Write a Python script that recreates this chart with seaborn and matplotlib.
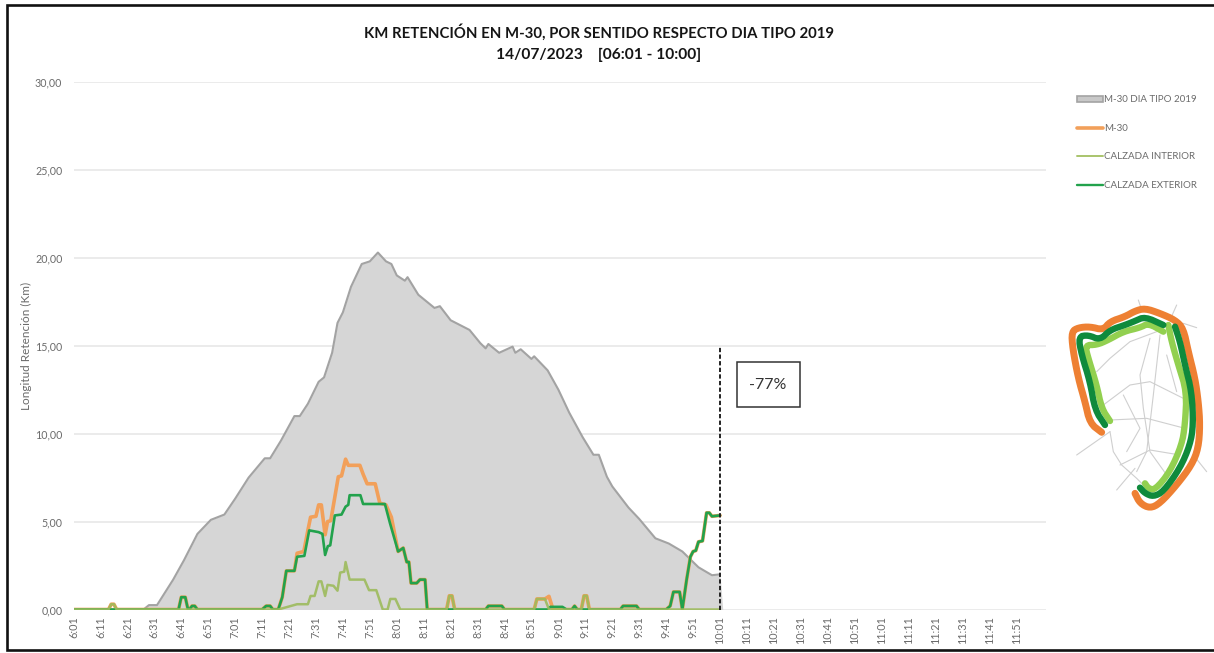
"""
KM retencion en M-30 por sentido, respecto al dia tipo 2019
"""

import matplotlib.pyplot as plt
from matplotlib.lines import Line2D
from matplotlib.patches import Rectangle
import seaborn as sns

W, H = 1214, 653

# minutes after 6:01 and km
tipo_min = [0, 26, 28, 31, 37, 41, 46, 51, 56, 60, 65, 71, 73, 77, 82, 84, 87, 91, 93, 96, 98, 100, 103, 107, 110,
            113, 116, 118, 120, 123, 124, 128, 134, 136, 140, 147, 151, 153, 154, 158, 163, 164, 166, 170, 171, 176,
            180, 184, 189, 193, 195, 198, 200, 204, 206, 210, 216, 221, 226, 232, 237, 240, 241]
tipo_km = [0, 0, 0.25, 0.25, 1.7, 2.8, 4.3, 5.1, 5.4, 6.3, 7.5, 8.6, 8.6, 9.6, 11.0, 11.0, 11.7, 12.95, 13.2, 14.6,
           16.3, 16.9, 18.35, 19.65, 19.8, 20.3, 19.8, 19.65, 19.0, 18.7, 18.9, 17.9, 17.15, 17.25, 16.45, 15.9, 15.15,
           14.85, 15.1, 14.6, 14.95, 14.6, 14.8, 14.25, 14.4, 13.6, 12.5, 11.2, 9.8, 8.8, 8.8, 7.55, 7.0, 6.2, 5.8,
           5.15, 4.05, 3.75, 3.3, 2.4, 1.95, 2.0, 0]

m30_min = [0, 13, 14, 15, 16, 39, 40, 41.5, 42.5, 43, 44, 45, 46, 70, 71.5, 73, 74, 76, 77.5, 79, 82, 83, 85.5, 87,
           88, 90, 91, 92, 93.4, 94.3, 95.5, 98.3, 99.5, 101, 102, 106.3, 107.5, 109, 112, 113.7, 116, 118, 120.5,
           122.4, 123.7, 124.5, 125.3, 127.4, 128.6, 130.5, 131.3, 138.5, 139.5, 140.5, 141.5, 153, 154, 159, 160,
           171, 172, 175, 176.5, 178, 182, 183, 185, 186, 187, 188.5, 189.5, 190.5, 191.5, 203, 204, 209, 210,
           220, 221.5, 222.7, 225, 226, 227.6, 229, 230, 231, 232, 233.5, 235, 236, 237, 240]
m30_km = [0, 0, 0.3, 0.3, 0, 0, 0.7, 0.7, 0, 0, 0.2, 0.2, 0, 0, 0.2, 0.2, 0, 0, 0.7, 2.2, 2.2, 3.2, 3.3, 4.5, 5.25,
          5.3, 5.95, 5.95, 4.25, 5.0, 5.05, 7.55, 7.6, 8.55, 8.2, 8.2, 7.7, 7.15, 7.15, 6.05, 5.95, 5.25, 3.3, 3.5,
          2.7, 2.7, 1.5, 1.5, 1.7, 1.7, 0, 0, 0.78, 0.78, 0, 0, 0.2, 0.2, 0, 0, 0.6, 0.6, 0.75, 0, 0, 0, 0, 0.2, 0,
          0, 0.78, 0.78, 0, 0, 0.2, 0.2, 0, 0, 0.2, 1.0, 1.0, 0, 1.7, 3.0, 3.3, 3.35, 3.85, 3.9, 5.5, 5.5, 5.3, 5.35]

interior_min = [0, 13, 14, 15, 16, 76, 83, 87, 88, 89.5, 91, 92, 93.4, 94.3, 96.5, 98, 99, 100.5, 101, 102.5, 108,
                109.7, 112.4, 114.8, 116.6, 117.6, 119.5, 121.3, 138.5, 139.5, 140.5, 141.5, 171, 172, 175, 176.5,
                188.5, 189.5, 190.5, 191.5, 240]
interior_km = [0, 0, 0.3, 0.3, 0, 0, 0.3, 0.3, 0.77, 0.77, 1.6, 1.6, 0.77, 1.4, 1.35, 1.07, 2.1, 2.15, 2.7, 1.7, 1.7,
               1.1, 1.1, 0, 0, 0.6, 0.6, 0, 0, 0.78, 0.78, 0, 0, 0.6, 0.6, 0, 0, 0.78, 0.78, 0, 0]

exterior_min = [0, 39, 40, 41.5, 42.5, 43, 44, 45, 46, 70, 71.5, 73, 74, 76, 77.5, 79, 82, 83, 85.7, 87.5, 91, 92.4,
                93.4, 94.4, 95.3, 97, 99.5, 101, 102, 102.5, 106.5, 107.5, 115.6, 117.5, 120.5, 122.4, 123.7, 124.5,
                125.3, 127.4, 128.6, 130.5, 131.3, 153, 154, 159, 160, 176, 177, 181.5, 183, 185, 186, 187, 203, 204,
                209, 210, 220, 221.5, 222.7, 225, 226, 227.6, 229, 230, 231, 232, 233.5, 235, 236, 237, 240]
exterior_km = [0, 0, 0.7, 0.7, 0, 0, 0.2, 0.2, 0, 0, 0.2, 0.2, 0, 0, 0.7, 2.2, 2.2, 3.0, 3.05, 4.5, 4.4, 4.3, 3.1, 3.6,
               3.65, 5.35, 5.4, 5.85, 5.95, 6.5, 6.5, 6.0, 6.0, 4.9, 3.3, 3.5, 2.7, 2.7, 1.5, 1.5, 1.7, 1.7, 0, 0, 0.2,
               0.2, 0, 0, 0.15, 0.15, 0, 0, 0.2, 0, 0, 0.2, 0.2, 0, 0, 0.2, 1.0, 1.0, 0, 1.7, 3.0, 3.3, 3.35, 3.85, 3.9,
               5.5, 5.5, 5.3, 5.35]

hour_ticks = [f"{6 + (1 + i) // 60}:{(1 + i) % 60:02d}" for i in range(0, 351, 10)]
y_ticks = [0, 5, 10, 15, 20, 25, 30]
y_labels = ["0,00", "5,00", "10,00", "15,00", "20,00", "25,00", "30,00"]
corte_min = 240
corte_km = 15

# map sketch, in its own little coordinate box
map_naranja = [[(125, 412), (90, 385), (75, 320), (55, 250), (38, 160), (35, 110), (55, 98), (90, 95), (130, 105),
                (150, 80), (195, 65), (225, 48), (255, 40), (300, 55), (345, 75), (370, 100), (385, 170), (405, 250),
                (415, 320), (420, 390), (415, 460), (395, 510), (350, 570), (300, 625), (270, 640), (240, 625),
                (225, 595)]]
map_oscuro = [[(135, 390), (105, 345), (90, 260), (65, 180), (55, 125), (85, 120), (120, 135), (150, 105), (195, 90),
               (225, 78), (255, 65), (310, 90)],
              [(345, 95), (360, 140), (375, 210), (395, 290), (400, 390), (390, 450), (360, 520), (310, 590),
               (280, 605), (255, 595), (240, 578)]]
map_claro = [[(150, 378), (125, 340), (110, 270), (85, 190), (75, 150), (110, 150), (145, 135), (190, 110), (240, 98),
              (265, 85), (310, 110)],
             [(325, 90), (335, 140), (355, 210), (380, 290), (375, 390), (365, 450), (330, 530), (285, 585),
              (265, 580), (255, 565)]]
map_red = [[(235, 15), (245, 45)], [(350, 30), (330, 75)], [(370, 85), (410, 98)], [(150, 410), (50, 480)],
           [(400, 480), (440, 530)], [(150, 410), (160, 470), (185, 510), (230, 550), (250, 570)],
           [(225, 520), (170, 585)], [(110, 230), (150, 190), (210, 140), (290, 110)],
           [(130, 330), (210, 270), (270, 260), (370, 310)], [(150, 375), (260, 370), (375, 400)],
           [(270, 130), (240, 240), (250, 340), (270, 470), (320, 540)], [(300, 120), (280, 300), (260, 470), (230, 530)],
           [(180, 510), (270, 465), (360, 480)], [(190, 300), (240, 400), (200, 470)], [(320, 180), (350, 290)]]


def rounded(seg):
    # cut the corners twice so the ring does not look polygonal
    for _ in range(2):
        out = [seg[0]]
        for a, b in zip(seg[:-1], seg[1:]):
            out.append((0.75 * a[0] + 0.25 * b[0], 0.75 * a[1] + 0.25 * b[1]))
            out.append((0.25 * a[0] + 0.75 * b[0], 0.25 * a[1] + 0.75 * b[1]))
        out.append(seg[-1])
        seg = out
    return seg


sns.set_theme(style="white")
plt.rcParams['font.family'] = ['Lato', 'DejaVu Sans']

fig = plt.figure(figsize=(W / 100, H / 100), dpi=100)
ax = fig.add_axes([73.5 / W, 1 - 609.5 / H, (1046 - 73.5) / W, (609.5 - 82) / H])

ax.fill_between(tipo_min, tipo_km, color="#d6d6d6", lw=0, zorder=2)
sns.lineplot(x=tipo_min[:-1], y=tipo_km[:-1], ax=ax, color="#a3a3a3", lw=1.5, estimator=None, sort=False, zorder=3)
sns.lineplot(x=m30_min, y=m30_km, ax=ax, color="#f2a05a", lw=2.6, estimator=None, sort=False, zorder=4)
sns.lineplot(x=exterior_min, y=exterior_km, ax=ax, color="#22a24c", lw=1.9, estimator=None, sort=False, zorder=5)
sns.lineplot(x=interior_min, y=interior_km, ax=ax, color="#9dbb5c", lw=1.8, estimator=None, sort=False, zorder=6,
             alpha=0.9)
ax.plot([corte_min, corte_min], [0, corte_km], color="#222222", lw=1.4, ls=(0, (2.2, 1.2)), zorder=7)

ax.set_xlim(0, 361)
ax.set_ylim(0, 30)
ax.set_yticks(y_ticks, y_labels, fontsize=7.7, color="#6b6b6b")
ax.set_xticks(list(range(0, 351, 10)), hour_ticks, rotation=90, fontsize=7.8, color="#6b6b6b")
ax.tick_params(axis='y', length=0, pad=8)
ax.tick_params(axis='x', length=0, pad=5)
ax.grid(axis='y', color="#e5e5e5", lw=1.1, zorder=0)
ax.set_axisbelow(True)
sns.despine(ax=ax, left=True, top=True, right=True, bottom=True)
ax.set_ylabel("Longitud Retención (Km)", fontsize=8.5, color="#6b6b6b", labelpad=2.5)
ax.set_xlabel("")

fig.text(598.5 / W, 1 - 32 / H, "KM RETENCIÓN EN M-30, POR SENTIDO RESPECTO DIA TIPO 2019", ha="center", va="center",
         fontsize=10.75, fontweight="bold", color="#151515")
fig.text(598.5 / W, 1 - 55 / H, "14/07/2023    [06:01 - 10:00]", ha="center", va="center",
         fontsize=11.2, fontweight="bold", color="#151515")

# -77% box
fig.text(768 / W, 1 - 385 / H, "-77%", ha="center", va="center", fontsize=11.5, color="#333333")
fig.add_artist(Rectangle((736.5 / W, 1 - 407 / H), 63 / W, 45 / H, transform=fig.transFigure, fill=False,
                         ec="#333333", lw=1.1))

# legend drawn by hand to keep the gaps of the original
leg = fig.add_axes([0, 0, 1, 1], facecolor="none")
leg.set_xlim(0, W)
leg.set_ylim(H, 0)
leg.axis("off")
leg.add_patch(Rectangle((1077, 96), 26, 6, fc="#c8c8c8", ec="#a3a3a3", lw=1.2))
leg.plot([1077, 1103], [128, 128], color="#f2a05a", lw=2.6)
leg.plot([1077, 1103], [156, 156], color="#a9c46c", lw=1.4)
leg.plot([1077, 1103], [184.5, 184.5], color="#22a24c", lw=1.7)
for ty, txt in zip([100, 128.5, 156.5, 185], ["M-30 DIA TIPO 2019", "M-30", "CALZADA INTERIOR", "CALZADA EXTERIOR"]):
    leg.text(1104, ty, txt, fontsize=7.0, color="#6b6b6b", va="center")

# map
mp = fig.add_axes([1060 / W, 1 - 515 / H, 150 / W, 220 / H], facecolor="none")
mp.set_xlim(0, 450)
mp.set_ylim(660, 0)
mp.axis("off")
for seg in map_red:
    mp.plot(*zip(*seg), color="#cfcfcf", lw=0.8, zorder=1)
for seg in map_naranja:
    mp.plot(*zip(*rounded(seg)), color="#ee8033", lw=5.0, zorder=2)
for seg in map_claro:
    mp.plot(*zip(*rounded(seg)), color="#92d050", lw=4.6, zorder=3)
for seg in map_oscuro:
    mp.plot(*zip(*rounded(seg)), color="#0f8a3c", lw=4.6, zorder=4)

# screenshot frame, it has no right edge
fig.add_artist(Line2D([1 / 1, 7 / W, 7 / W, 1 / 1], [1 - 5 / H, 1 - 5 / H, 1 - 650 / H, 1 - 650 / H],
                      transform=fig.transFigure, color="#111111", lw=1.9, solid_joinstyle="miter"))

fig.savefig("out.png", dpi=100)
